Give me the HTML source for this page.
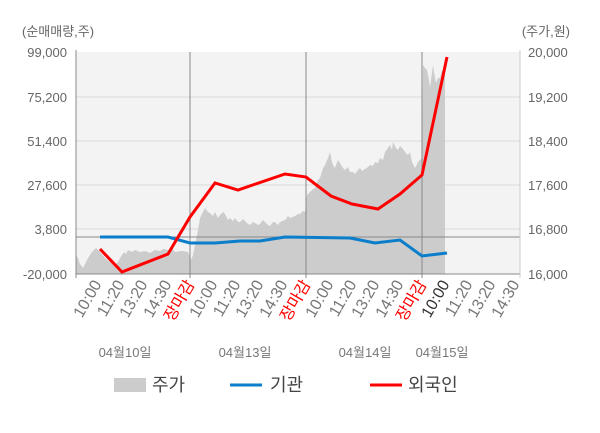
<!DOCTYPE html>
<html><head><meta charset="utf-8"><style>
body{margin:0;background:#fff;}
text{font-family:"Liberation Sans","Noto Sans CJK KR",sans-serif;}
</style></head><body>
<svg width="600" height="428" xmlns="http://www.w3.org/2000/svg">
<rect x="76" y="52" width="444" height="222" fill="#f3f3f3"/>
<g stroke="#d9d9d9" stroke-width="1">
<line x1="76" y1="97" x2="520" y2="97"/><line x1="76" y1="141" x2="520" y2="141"/>
<line x1="76" y1="185" x2="520" y2="185"/><line x1="76" y1="229" x2="520" y2="229"/>
</g>
<polygon fill="#cccccc" points="76,274 76,255 78,258 80,264 83,268 86,262 88,258 92,252 96,248 100,252 105,258 110,262 115,265 118,262 120,258 124,252 126,254 128,250 132,252 135,250 140,252 145,251 150,253 155,250 160,251 163,249 168,250 172,248 175,252 182,251 188,252 191,260 193,255 195,245 198,230 200,218 203,212 205,208 208,212 210,213 213,216 215,212 218,218 220,215 223,212 225,214 228,220 230,218 233,221 235,218 238,222 240,222 243,219 245,221 248,224 250,225 253,222 255,223 258,225 260,224 263,220 265,222 268,225 270,226 273,222 275,222 278,225 280,222 285,220 288,216 290,218 295,216 298,214 300,214 303,211 305,212 307,195 310,192 312,190 315,188 318,180 320,178 323,168 325,165 328,158 330,152 332,162 333,165 335,168 337,162 338,160 340,163 343,168 345,170 348,167 350,172 353,172 355,174 358,170 360,168 362,171 365,169 368,167 370,165 373,166 375,162 378,163 380,158 383,160 385,152 388,148 390,145 392,150 393,142 396,148 398,150 400,146 403,149 405,152 408,155 410,152 412,162 415,168 418,162 420,160 422,158 423,65 425,68 427,70 429,80 430,88 432,72 433,65 434,72 436,83 438,78 440,78 442,70 443,72 445,74 445,274"/>
<g stroke="#888" stroke-width="1">
<line x1="190" y1="52" x2="190" y2="278"/><line x1="306" y1="52" x2="306" y2="278"/><line x1="422" y1="52" x2="422" y2="278"/>
<line x1="76" y1="237" x2="520" y2="237"/>
<line x1="76" y1="50" x2="76" y2="278"/><line x1="76" y1="274" x2="520" y2="274"/>
<line x1="520" y1="50" x2="520" y2="278" stroke="#ccc"/>
</g>
<polyline fill="none" stroke="#0a7ecb" stroke-width="3" points="100,237 168,237 190,243 215,243 240,241 260,241 285,237 350,238 375,243 400,240 422,256 447,253"/>
<polyline fill="none" stroke="#f00" stroke-width="3" points="100,249 122,272 168,254 190,217 215,183 238,190 285,174 306,177 331,196 352,204 378,209 400,194 422,175 447,57"/>
<g font-size="13" fill="#666">
<text x="22" y="36">(순매매량,주)</text>
<text x="570" y="36" text-anchor="end">(주가,원)</text>
<g text-anchor="end">
<text x="67" y="57">99,000</text><text x="67" y="102">75,200</text><text x="67" y="146">51,400</text>
<text x="67" y="190">27,600</text><text x="67" y="234">3,800</text><text x="67" y="279">-20,000</text>
</g>
<text x="528" y="57">20,000</text><text x="528" y="102">19,200</text><text x="528" y="146">18,400</text>
<text x="528" y="190">17,600</text><text x="528" y="234">16,800</text><text x="528" y="279">16,000</text>
</g>
<g font-size="16" fill="#777" text-anchor="end">
<text transform="translate(102,284) rotate(-60)">10:00</text>
<text transform="translate(125,284) rotate(-60)">11:20</text>
<text transform="translate(148,284) rotate(-60)">13:20</text>
<text transform="translate(172,284) rotate(-60)">14:30</text>
<text transform="translate(195,284) rotate(-60)" fill="#f00">장마감</text>
<text transform="translate(218,284) rotate(-60)">10:00</text>
<text transform="translate(241,284) rotate(-60)">11:20</text>
<text transform="translate(264,284) rotate(-60)">13:20</text>
<text transform="translate(288,284) rotate(-60)">14:30</text>
<text transform="translate(311,284) rotate(-60)" fill="#f00">장마감</text>
<text transform="translate(334,284) rotate(-60)">10:00</text>
<text transform="translate(357,284) rotate(-60)">11:20</text>
<text transform="translate(380,284) rotate(-60)">13:20</text>
<text transform="translate(404,284) rotate(-60)">14:30</text>
<text transform="translate(427,284) rotate(-60)" fill="#f00">장마감</text>
<text transform="translate(450,284) rotate(-60)" fill="#333">10:00</text>
<text transform="translate(473,284) rotate(-60)">11:20</text>
<text transform="translate(496,284) rotate(-60)">13:20</text>
<text transform="translate(520,284) rotate(-60)">14:30</text>
</g>
<g font-size="13" fill="#777" text-anchor="middle">
<text x="125" y="357">04월10일</text><text x="245" y="357">04월13일</text>
<text x="365" y="357">04월14일</text><text x="442" y="357">04월15일</text>
</g>
<rect x="114" y="378" width="32" height="14" fill="#ccc"/>
<text x="152" y="391" font-size="18" fill="#444">주가</text>
<line x1="230" y1="385" x2="262" y2="385" stroke="#0a7ecb" stroke-width="3"/>
<text x="270" y="391" font-size="18" fill="#444">기관</text>
<line x1="370" y1="385" x2="402" y2="385" stroke="#f00" stroke-width="3"/>
<text x="408" y="391" font-size="18" fill="#444">외국인</text>
</svg>
</body></html>
